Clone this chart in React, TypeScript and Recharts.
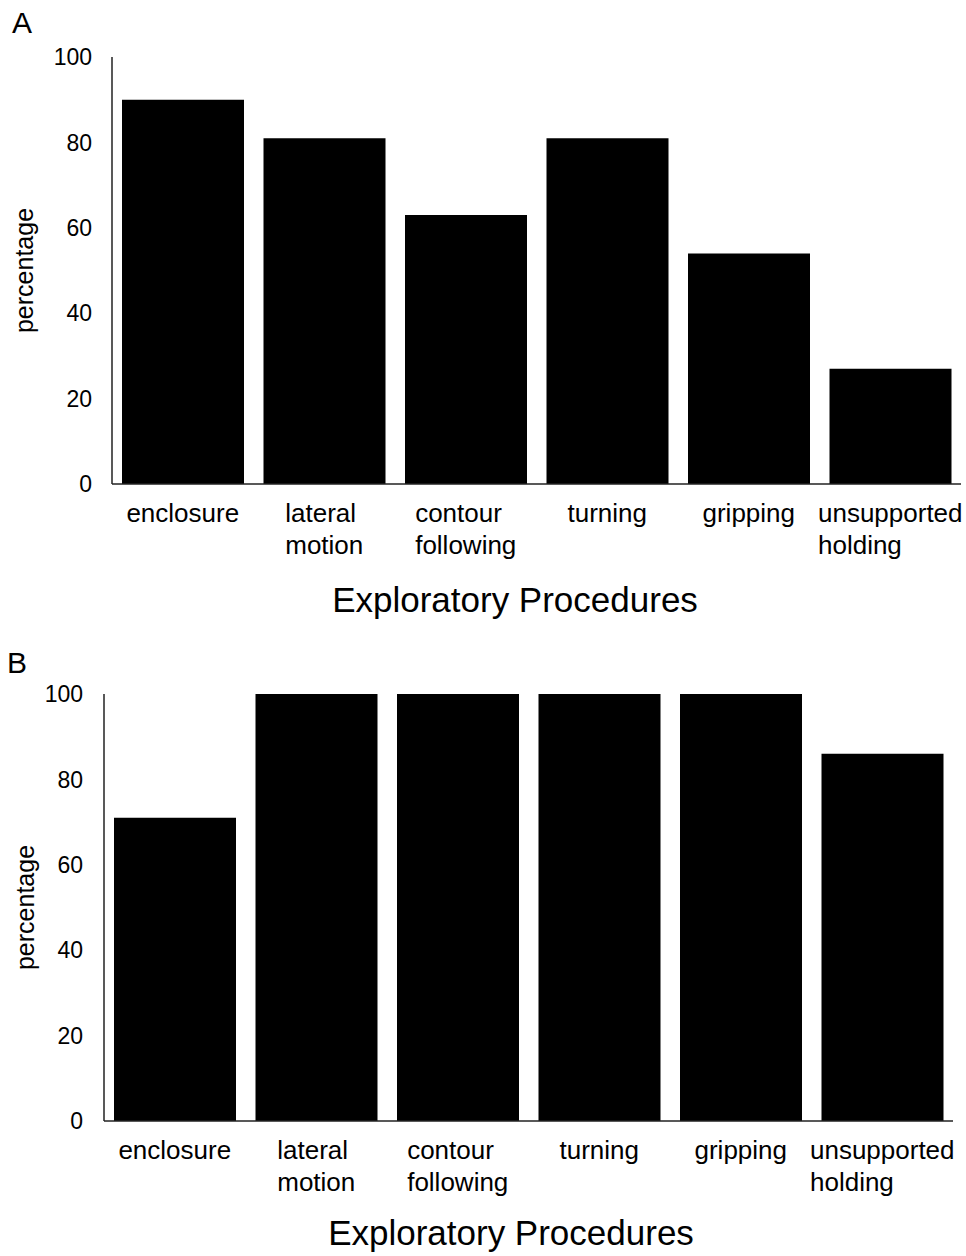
import React from 'react';
import { BarChart, Bar, XAxis, YAxis, Label } from 'recharts';

const categories = ['enclosure', 'lateral motion', 'contour following', 'turning', 'gripping', 'unsupported holding'];
const tickLines: string[][] = [
  ['enclosure'],
  ['lateral', 'motion'],
  ['contour', 'following'],
  ['turning'],
  ['gripping'],
  ['unsupported', 'holding'],
];
const valuesA = [90, 81, 63, 81, 54, 27];
const valuesB = [71, 100, 100, 100, 100, 86];
const yTicks = [0, 20, 40, 60, 80, 100];

const FONT = "'Liberation Sans', Arial, Helvetica, sans-serif";
const AXIS_COLOR = '#222';

let canvasCtx: CanvasRenderingContext2D | null = null;
function measure(text: string, size: number): number {
  if (!canvasCtx) {
    const c = document.createElement('canvas');
    canvasCtx = c.getContext('2d');
  }
  if (!canvasCtx) return text.length * size * 0.5;
  canvasCtx.font = `${size}px ${FONT}`;
  return canvasCtx.measureText(text).width;
}

const XTick = (props: any) => {
  const { x, y, payload } = props;
  const idx = categories.indexOf(payload.value);
  const lines = idx >= 0 ? tickLines[idx] : [String(payload.value)];
  const size = 26;
  const maxW = Math.max(...lines.map((l) => measure(l, size)));
  const left = x - maxW / 2;
  return (
    <g>
      {lines.map((l, i) => (
        <text key={i} x={left} y={y + 38 + i * 32} textAnchor="start" fontSize={size} fontFamily={FONT} fill="#000">
          {l}
        </text>
      ))}
    </g>
  );
};

type PanelProps = {
  values: number[];
  letter: string;
  height: number;
  margin: { top: number; right: number; bottom: number; left: number };
  tickMargin: number;
  titleX: number;
  titleY: number;
  letterX: number;
  letterY: number;
  ylabelX: number;
};

const Panel = (p: PanelProps) => {
  const data = categories.map((c, i) => ({ name: c, value: p.values[i] }));
  const plotMid = p.margin.top + (p.height - p.margin.top - p.margin.bottom - 100) / 2;
  return (
    <BarChart width={966} height={p.height} data={data} margin={p.margin} barCategoryGap={10}>
      <XAxis
        dataKey="name"
        type="category"
        height={100}
        tickLine={false}
        tickSize={0}
        tickMargin={0}
        interval={0}
        axisLine={{ stroke: AXIS_COLOR, strokeWidth: 1.5 }}
        tick={<XTick />}
      >
        <Label
          content={() => (
            <text x={p.titleX} y={p.titleY} textAnchor="middle" fontSize={35} fontFamily={FONT} fill="#000">
              Exploratory Procedures
            </text>
          )}
        />
      </XAxis>
      <YAxis
        type="number"
        domain={[0, 100]}
        ticks={yTicks}
        width={60}
        tickLine={false}
        tickSize={0}
        tickMargin={p.tickMargin}
        axisLine={{ stroke: AXIS_COLOR, strokeWidth: 1.5 }}
        tick={{ fontSize: 23, fontFamily: FONT, fill: '#000' }}
      >
        <Label
          content={() => (
            <g>
              <text
                x={p.ylabelX}
                y={plotMid}
                transform={`rotate(-90 ${p.ylabelX} ${plotMid})`}
                textAnchor="middle"
                fontSize={25}
                fontFamily={FONT}
                fill="#000"
              >
                percentage
              </text>
              <text x={p.letterX} y={p.letterY} textAnchor="start" fontSize={30} fontFamily={FONT} fill="#000">
                {p.letter}
              </text>
            </g>
          )}
        />
      </YAxis>
      <Bar dataKey="value" fill="#000" isAnimationActive={false} />
    </BarChart>
  );
};

export default function App() {
  return (
    <div style={{ position: 'absolute', left: 0, top: 0, width: 966, height: 1256, background: '#fff' }}>
      <div style={{ position: 'absolute', left: 0, top: 0 }}>
        <Panel
          values={valuesA}
          letter="A"
          height={640}
          margin={{ top: 57, right: 5, bottom: 56, left: 52 }}
          tickMargin={20}
          titleX={515}
          titleY={612}
          letterX={12}
          letterY={33}
          ylabelX={33}
        />
      </div>
      <div style={{ position: 'absolute', left: 0, top: 640 }}>
        <Panel
          values={valuesB}
          letter="B"
          height={616}
          margin={{ top: 54, right: 13, bottom: 35, left: 44 }}
          tickMargin={21}
          titleX={511}
          titleY={605}
          letterX={7}
          letterY={33}
          ylabelX={34}
        />
      </div>
    </div>
  );
}
